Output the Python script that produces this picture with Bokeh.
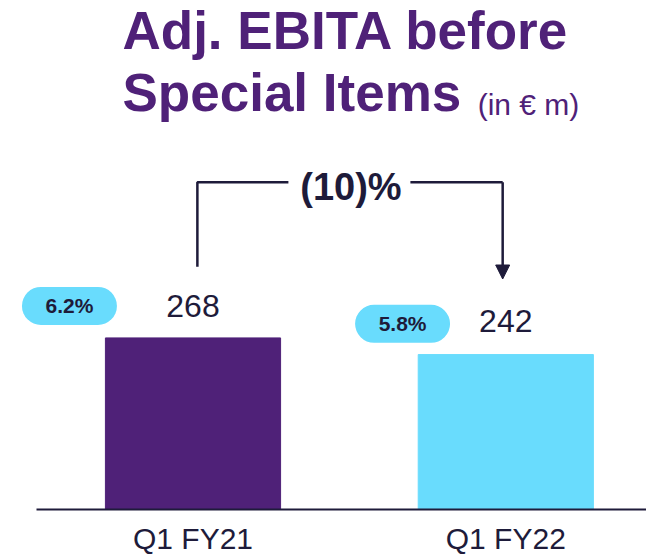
from bokeh.plotting import figure
from bokeh.models import Range1d, FixedTicker, Arrow, NormalHead, ColumnDataSource
from bokeh.core.properties import value
from bokeh.embed import file_html
from bokeh.resources import INLINE

# ---- data ----
categories = ["Q1 FY21", "Q1 FY22"]
values = [268, 242]
margins = ["6.2%", "5.8%"]
change_label = "(10)%"
title_line1 = "Adj. EBITA before"
title_line2 = "Special Items"
title_unit = "(in € m)"

PURPLE = "#4F2178"
CYAN = "#69DCFD"
NAVY = "#1E1B3A"
FONT = "Liberation Sans"

xs = [i + 1 for i in range(len(categories))]

p = figure(width=646, height=557, output_backend="svg", toolbar_location=None,
           x_range=Range1d(0.3846, 2.4498), y_range=Range1d(0, 795),
           y_axis_location=None, min_border_left=0, min_border_right=0,
           min_border_top=0, min_border_bottom=0)
p.outline_line_color = None
p.xgrid.visible = False
p.ygrid.visible = False
p.background_fill_color = "white"
p.border_fill_color = "white"

# bars
src = ColumnDataSource(dict(x=xs, top=values, color=[PURPLE, CYAN],
                            label=[str(v) for v in values],
                            ly=[v + o for v, o in zip(values, [50, 53])],
                            px=[x + o for x, o in zip(xs, [-0.395, -0.330])],
                            py=[v + o for v, o in zip(values, [50, 48])],
                            margin=margins))
p.vbar(x="x", top="top", bottom=0, width=0.56, color="color", source=src)

# value labels
p.text(x="x", y="ly", text="label", source=src, text_align="center",
       text_baseline="middle", text_font=value(FONT), text_font_size="32px",
       text_color=NAVY)

# margin pills
p.rect(x="px", y="py", width=95, height=38, width_units="screen",
       height_units="screen", fill_color=CYAN, line_color=None,
       border_radius=19, source=src)
p.text(x="px", y="py", text="margin", source=src, text_align="center",
       text_baseline="middle", text_font=value(FONT), text_font_size="21px",
       text_font_style="bold", text_color=NAVY)

# change bracket
bracket_y = max(values) + 243
p.line(x=[xs[0] + 0.014, xs[0] + 0.014, xs[0] + 0.305],
       y=[values[0] + 111, bracket_y, bracket_y], line_color=NAVY, line_width=2.5)
p.line(x=[xs[1] - 0.305, xs[1] - 0.010], y=[bracket_y, bracket_y],
       line_color=NAVY, line_width=2.5)
p.add_layout(Arrow(x_start=xs[1] - 0.010, y_start=bracket_y,
                   x_end=xs[1] - 0.010, y_end=values[1] + 118,
                   line_color=NAVY, line_width=2.5,
                   end=NormalHead(size=14, fill_color=NAVY, line_color=NAVY)))
p.text(x=[(xs[0] + xs[1]) / 2 + 0.005], y=[bracket_y - 8], text=[change_label],
       text_align="center", text_baseline="middle", text_font=value(FONT),
       text_font_size="38px", text_font_style="bold", text_color=NAVY)

# title
p.text(x=[0.7746], y=[748], text=[title_line1], text_align="left",
       text_baseline="middle", text_font=value(FONT), text_font_size="53px",
       text_font_style="bold", text_color=PURPLE)
p.text(x=[0.7746], y=[651], text=[title_line2], text_align="left",
       text_baseline="middle", text_font=value(FONT), text_font_size="53px",
       text_font_style="bold", text_color=PURPLE)
p.text(x=[1.910], y=[632], text=[title_unit], text_align="left",
       text_baseline="middle", text_font=value(FONT), text_font_size="30px",
       text_color=PURPLE)

# axis
ax = p.xaxis[0]
ax.ticker = FixedTicker(ticks=xs)
ax.major_label_overrides = {x: c for x, c in zip(xs, categories)}
ax.bounds = (0.5, 2.4498)
ax.axis_line_color = NAVY
ax.axis_line_width = 2
ax.major_tick_line_color = None
ax.minor_tick_line_color = None
ax.major_tick_out = 0
ax.major_tick_in = 0
ax.major_label_standoff = 12
ax.major_label_text_font = FONT
ax.major_label_text_font_size = "30px"
ax.major_label_text_color = NAVY

open("out.html", "w").write(file_html(p, INLINE))
